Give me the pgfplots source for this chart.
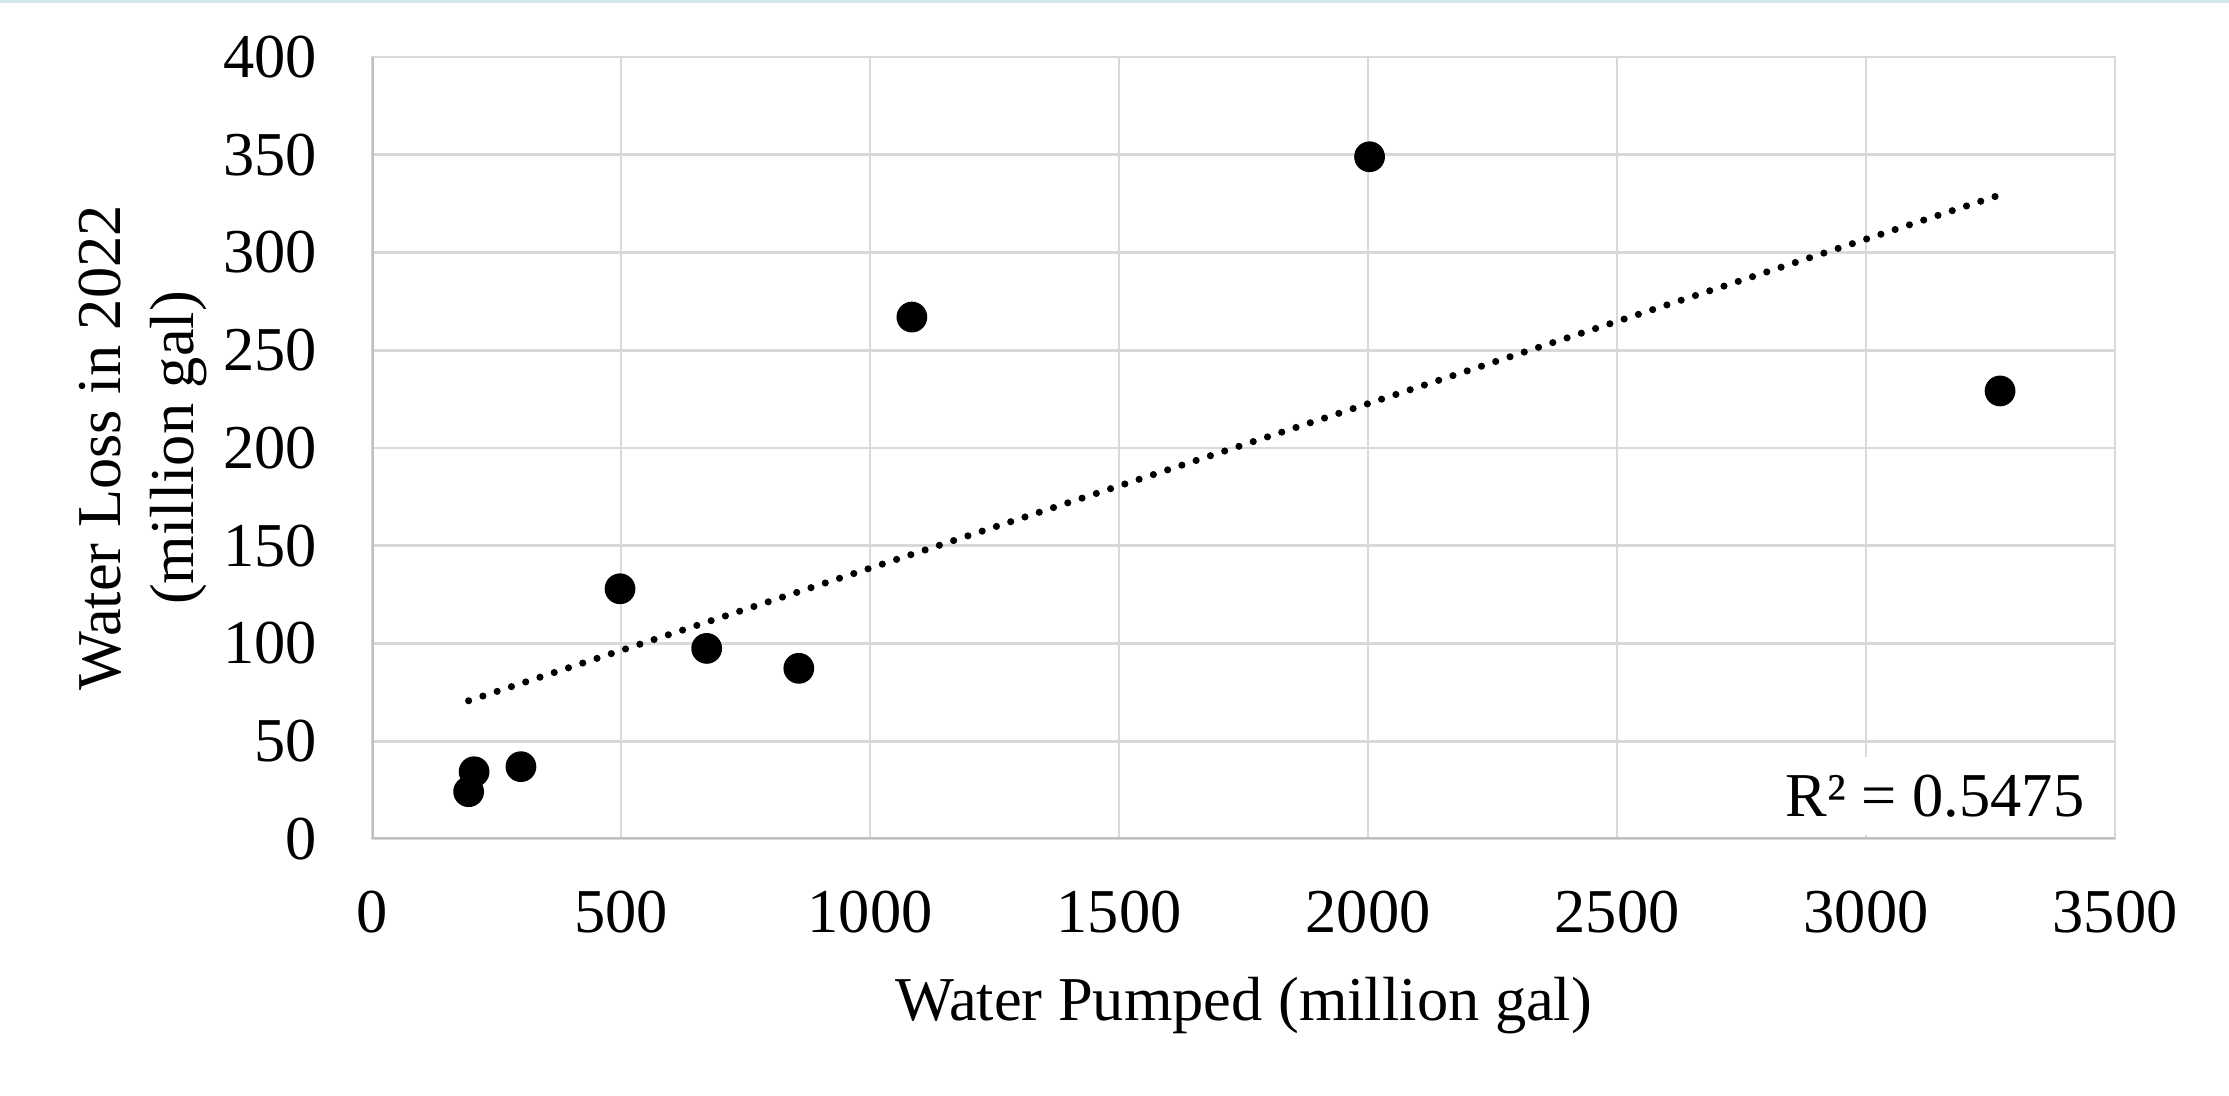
\documentclass[border=0pt]{standalone}
\usepackage{fontspec}
\setmainfont{Liberation Serif}
\usepackage{pgfplots}
\pgfplotsset{compat=1.18}
\definecolor{gridgray}{HTML}{D9D9D9}
\definecolor{axgray}{HTML}{BFBFBF}
\definecolor{topblue}{HTML}{D4E6EF}
\begin{document}
\fontsize{14pt}{16.4pt}\selectfont
\begin{tikzpicture}
\useasboundingbox (-83.45pt,-57.65pt) rectangle (416.55pt,188.2pt);
\fill[topblue] (-83.45pt,187.5pt) rectangle (416.55pt,188.2pt);
\begin{axis}[
  at={(0pt,0pt)}, anchor=south west,
  scale only axis, width=391pt, height=175.4pt,
  xmin=0, xmax=3500, ymin=0, ymax=400,
  xtick distance=500, ytick distance=50,
  grid=major, major grid style={gridgray, line width=0.6pt},
  axis line style={gridgray, line width=0.6pt},
  major tick length=0pt, tick style={draw=none},
  /pgf/number format/assume math mode=true,
  /pgf/number format/set thousands separator={},
  xticklabel style={anchor=base, yshift=-20.9pt},
  yticklabel style={anchor=east, inner sep=0pt, xshift=-12.1pt},
  xlabel={Water Pumped (million gal)},
  xlabel style={at={(axis description cs:0.5,-0.2326)}, anchor=base, inner sep=0pt},
  ylabel={Water Loss in 2022\\(million gal)},
  ylabel style={at={(axis description cs:-0.0941,0.5)}, anchor=south, inner sep=0pt, align=center},
]
\draw[axgray, line width=0.8pt] (rel axis cs:0,1) -- (rel axis cs:0,0) -- (rel axis cs:1,0);
\addplot[black, line width=1.6pt, line cap=round, dash pattern=on 0pt off 3.37pt]
  coordinates {(194,70.7) (3269,329.5)};
\addplot[only marks, mark=*, mark size=3.25pt, mark options={fill=black, draw=black}]
  coordinates {
  (194,24.2) (205,34.4) (299,37.0) (498,128) (672,97.5)
  (857,87.3) (1084,267) (2003,349) (3269,229.2)
  };
\node[anchor=base east, fill=white, inner sep=4pt] at ([xshift=-2.7pt,yshift=5pt]rel axis cs:1,0) {R² = 0.5475};
\end{axis}
\end{tikzpicture}
\end{document}
